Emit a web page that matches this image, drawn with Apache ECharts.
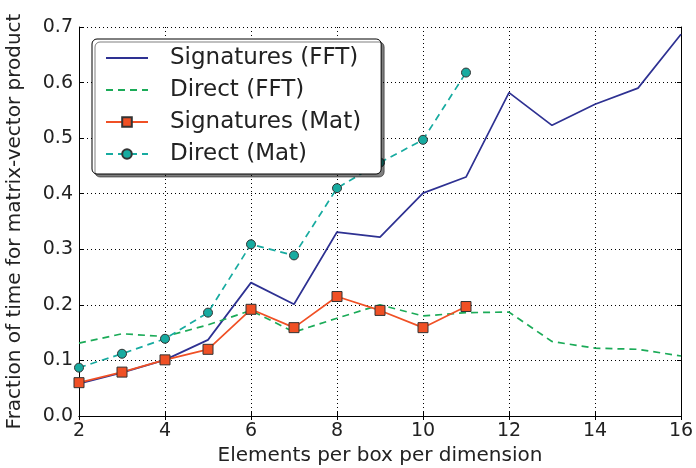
<!DOCTYPE html>
<html>
<head>
<meta charset="utf-8">
<script src="https://cdn.jsdelivr.net/npm/echarts@6/dist/echarts.min.js"></script>
<style>html,body{margin:0;padding:0;background:#fff;}#c{width:696px;height:468px;}</style>
</head>
<body>
<div id="c"></div>
<script>
const xs = [2, 3, 4, 5, 6, 7, 8, 9, 10, 11, 12, 13, 14, 15, 16];
const sigFFT = [0.058, 0.078, 0.101, 0.137, 0.240, 0.201, 0.331, 0.322, 0.401, 0.430, 0.582, 0.523, 0.561, 0.590, 0.687];
const dirFFT = [0.131, 0.148, 0.143, 0.164, 0.190, 0.151, 0.176, 0.200, 0.180, 0.186, 0.187, 0.134, 0.122, 0.120, 0.108];
const xsMat = [2, 3, 4, 5, 6, 7, 8, 9, 10, 11];
const sigMat = [0.060, 0.079, 0.101, 0.120, 0.192, 0.159, 0.215, 0.190, 0.159, 0.197];
const dirMat = [0.087, 0.112, 0.139, 0.186, 0.309, 0.289, 0.410, 0.456, 0.497, 0.618];
const seriesNames = ['Signatures (FFT)', 'Direct (FFT)', 'Signatures (Mat)', 'Direct (Mat)'];
const xTitle = 'Elements per box per dimension';
const yTitle = 'Fraction of time for matrix-vector product';

const pair = (a, b) => a.map((x, i) => [x, b[i]]);
const font = 'DejaVu Sans';
const chart = echarts.init(document.getElementById('c'), null, {renderer: 'canvas'});
const axisCommon = {
  axisLine: {show: true, lineStyle: {color: '#000', width: 1}},
  axisTick: {show: true, inside: true, length: 4, lineStyle: {color: '#000'}},
  splitLine: {show: false}
};
chart.setOption({
  animation: false,
  backgroundColor: '#fff',
  grid: {left: 79, right: 15, top: 27, bottom: 52, show: false, containLabel: false, outerBoundsMode: 'none'},
  xAxis: [
    Object.assign({}, axisCommon, {
      type: 'value', min: 2, max: 16, interval: 2, position: 'bottom',
      name: xTitle, nameLocation: 'middle', nameGap: 28,
      nameTextStyle: {fontFamily: font, fontSize: 20, color: '#222'},
      axisLabel: {fontFamily: font, fontSize: 19, color: '#222', margin: 6},
      splitLine: {show: true, lineStyle: {color: '#000', type: [1, 3], width: 1}}
    }),
    Object.assign({}, axisCommon, {
      type: 'value', min: 2, max: 16, interval: 2, position: 'top',
      axisLabel: {show: false}
    })
  ],
  yAxis: [
    Object.assign({}, axisCommon, {
      type: 'value', min: 0, max: 0.7, interval: 0.1, position: 'left',
      name: yTitle, nameLocation: 'middle', nameGap: 54,
      nameTextStyle: {fontFamily: font, fontSize: 20, color: '#222'},
      axisLabel: {fontFamily: font, fontSize: 19, color: '#222', margin: 6,
        formatter: v => v.toFixed(1)},
      splitLine: {show: true, lineStyle: {color: '#000', type: [1, 3], width: 1}}
    }),
    Object.assign({}, axisCommon, {
      type: 'value', min: 0, max: 0.7, interval: 0.1, position: 'right',
      axisLabel: {show: false}
    })
  ],
  legend: {
    orient: 'vertical', left: 92, top: 39, z: 10,
    padding: [7, 20, 8, 13],
    itemWidth: 42, itemHeight: 12, itemGap: 8,
    backgroundColor: '#fff', borderColor: '#000', borderWidth: 1, borderRadius: 5,
    shadowColor: 'rgba(0,0,0,0.5)', shadowBlur: 0, shadowOffsetX: 3, shadowOffsetY: 3,
    textStyle: {fontFamily: font, fontSize: 23, color: '#222', padding: [0, 0, 0, 17], lineHeight: 24},
    data: [
      {name: seriesNames[0], itemStyle: {opacity: 0}},
      {name: seriesNames[1], itemStyle: {opacity: 0}},
      {name: seriesNames[2]},
      {name: seriesNames[3]}
    ]
  },
  series: [
    {name: seriesNames[0], type: 'line', data: pair(xs, sigFFT), symbol: 'none',
     lineStyle: {color: '#2e3192', width: 1.7}, itemStyle: {color: '#2e3192'}, z: 2},
    {name: seriesNames[1], type: 'line', data: pair(xs, dirFFT), symbol: 'none',
     lineStyle: {color: '#1bab58', width: 1.7, type: [7, 5]}, itemStyle: {color: '#1bab58'}, z: 2},
    {name: seriesNames[2], type: 'line', data: pair(xsMat, sigMat), symbol: 'rect', symbolSize: 10,
     lineStyle: {color: '#f05025', width: 1.7},
     itemStyle: {color: '#f05025', borderColor: '#333', borderWidth: 1}, z: 3},
    {name: seriesNames[3], type: 'line', data: pair(xsMat, dirMat), symbol: 'circle', symbolSize: 9,
     lineStyle: {color: '#17aba0', width: 1.7, type: [7, 5]},
     itemStyle: {color: '#17aba0', borderColor: '#333', borderWidth: 1}, z: 3}
  ]
});
</script>
</body>
</html>
